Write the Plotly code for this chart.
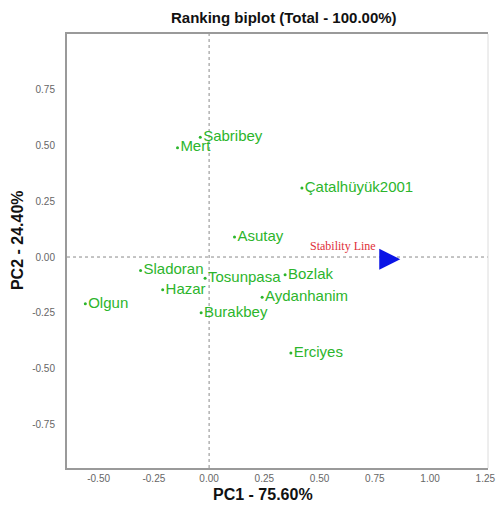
import plotly.graph_objects as go

# Genotype scores (PC1, PC2)
genotypes = ["Sabribey", "Mert", "Çatalhüyük2001", "Asutay", "Sladoran", "Tosunpasa",
             "Hazar", "Olgun", "Burakbey", "Aydanhanim", "Bozlak", "Erciyes"]
pc1 = [-0.04, -0.143, 0.42, 0.115, -0.31, -0.018, -0.21, -0.56, -0.036, 0.24, 0.344, 0.37]
pc2 = [0.537, 0.49, 0.31, 0.09, -0.06, -0.095, -0.147, -0.21, -0.25, -0.18, -0.08, -0.43]

# Average environment (stability line arrow tip)
stab_x = [0.865]
stab_y = [-0.01]
stab_label = ["Stability Line"]

x_ticks = [-0.5, -0.25, 0.0, 0.25, 0.5, 0.75, 1.0, 1.25]
x_ticktext = ["-0.50", "-0.25", "0.00", "0.25", "0.50", "0.75", "1.00", "1.25"]
y_ticks = [-0.75, -0.5, -0.25, 0.0, 0.25, 0.5, 0.75]
y_ticktext = ["-0.75", "-0.50", "-0.25", "0.00", "0.25", "0.50", "0.75"]
x_range = [-0.643, 1.262]
y_range = [-0.946, 1.0]

GREEN = "#2cb52c"
FONT = "Arial, Liberation Sans, sans-serif"

fig = go.Figure()

fig.add_hline(y=0, line=dict(color="#8a8a8a", width=1, dash="dot"), layer="below")
fig.add_vline(x=0, line=dict(color="#8a8a8a", width=1, dash="dot"), layer="below")

fig.add_trace(go.Scatter(
    x=pc1, y=pc2, mode="markers+text", text=genotypes, textposition="middle right",
    marker=dict(size=3, color=GREEN),
    textfont=dict(family=FONT, size=15, color=GREEN),
    cliponaxis=False, hoverinfo="text"))

fig.add_trace(go.Scatter(
    x=stab_x, y=stab_y, mode="markers",
    marker=dict(symbol="arrow-right", size=21, color="#0a14e6", line=dict(width=0)),
    hoverinfo="skip"))

fig.add_annotation(x=stab_x[0], y=stab_y[0], xref="x", yref="y", text=stab_label[0],
                   showarrow=False, xanchor="right", yanchor="bottom", xshift=-22, yshift=4,
                   font=dict(family="Liberation Serif, Times New Roman, serif", size=12, color="#e0303a"))

# right border (thin, light)
fig.add_shape(type="line", xref="paper", yref="paper", x0=1, x1=1, y0=0, y1=1,
              line=dict(color="#dcdcdc", width=1))

fig.add_annotation(text="<b>Ranking biplot (Total - 100.00%)</b>", xref="paper", yref="paper",
                   x=0.515, y=1.039, showarrow=False, xanchor="center", yanchor="middle",
                   font=dict(family=FONT, size=15, color="#111"))
fig.add_annotation(text="<b>PC1 - 75.60%</b>", xref="paper", yref="paper",
                   x=0.466, y=-0.062, showarrow=False, xanchor="center", yanchor="middle",
                   font=dict(family=FONT, size=16, color="#111"))
fig.add_annotation(text="<b>PC2 - 24.40%</b>", xref="paper", yref="paper",
                   x=-0.119, y=0.525, showarrow=False, xanchor="center", yanchor="middle",
                   textangle=-90,
                   font=dict(family=FONT, size=16, color="#111"))

fig.update_layout(
    width=498, height=506,
    margin=dict(l=67, r=10, t=34, b=38, autoexpand=False),
    plot_bgcolor="white", paper_bgcolor="white",
    showlegend=False,
    xaxis=dict(range=x_range, tickvals=x_ticks, ticktext=x_ticktext, showgrid=False, zeroline=False,
               showline=True, linecolor="#9a9a9a", linewidth=2, mirror=True, ticks="",
               ticklabeloverflow="allow", automargin=False,
               tickfont=dict(family=FONT, size=10, color="#666")),
    yaxis=dict(range=y_range, tickvals=y_ticks, ticktext=y_ticktext, showgrid=False, zeroline=False,
               showline=True, linecolor="#9a9a9a", linewidth=2, mirror=False, ticks="",
               ticklabelstandoff=8, automargin=False,
               tickfont=dict(family=FONT, size=10, color="#666")),
)

fig.write_html("out.html")
